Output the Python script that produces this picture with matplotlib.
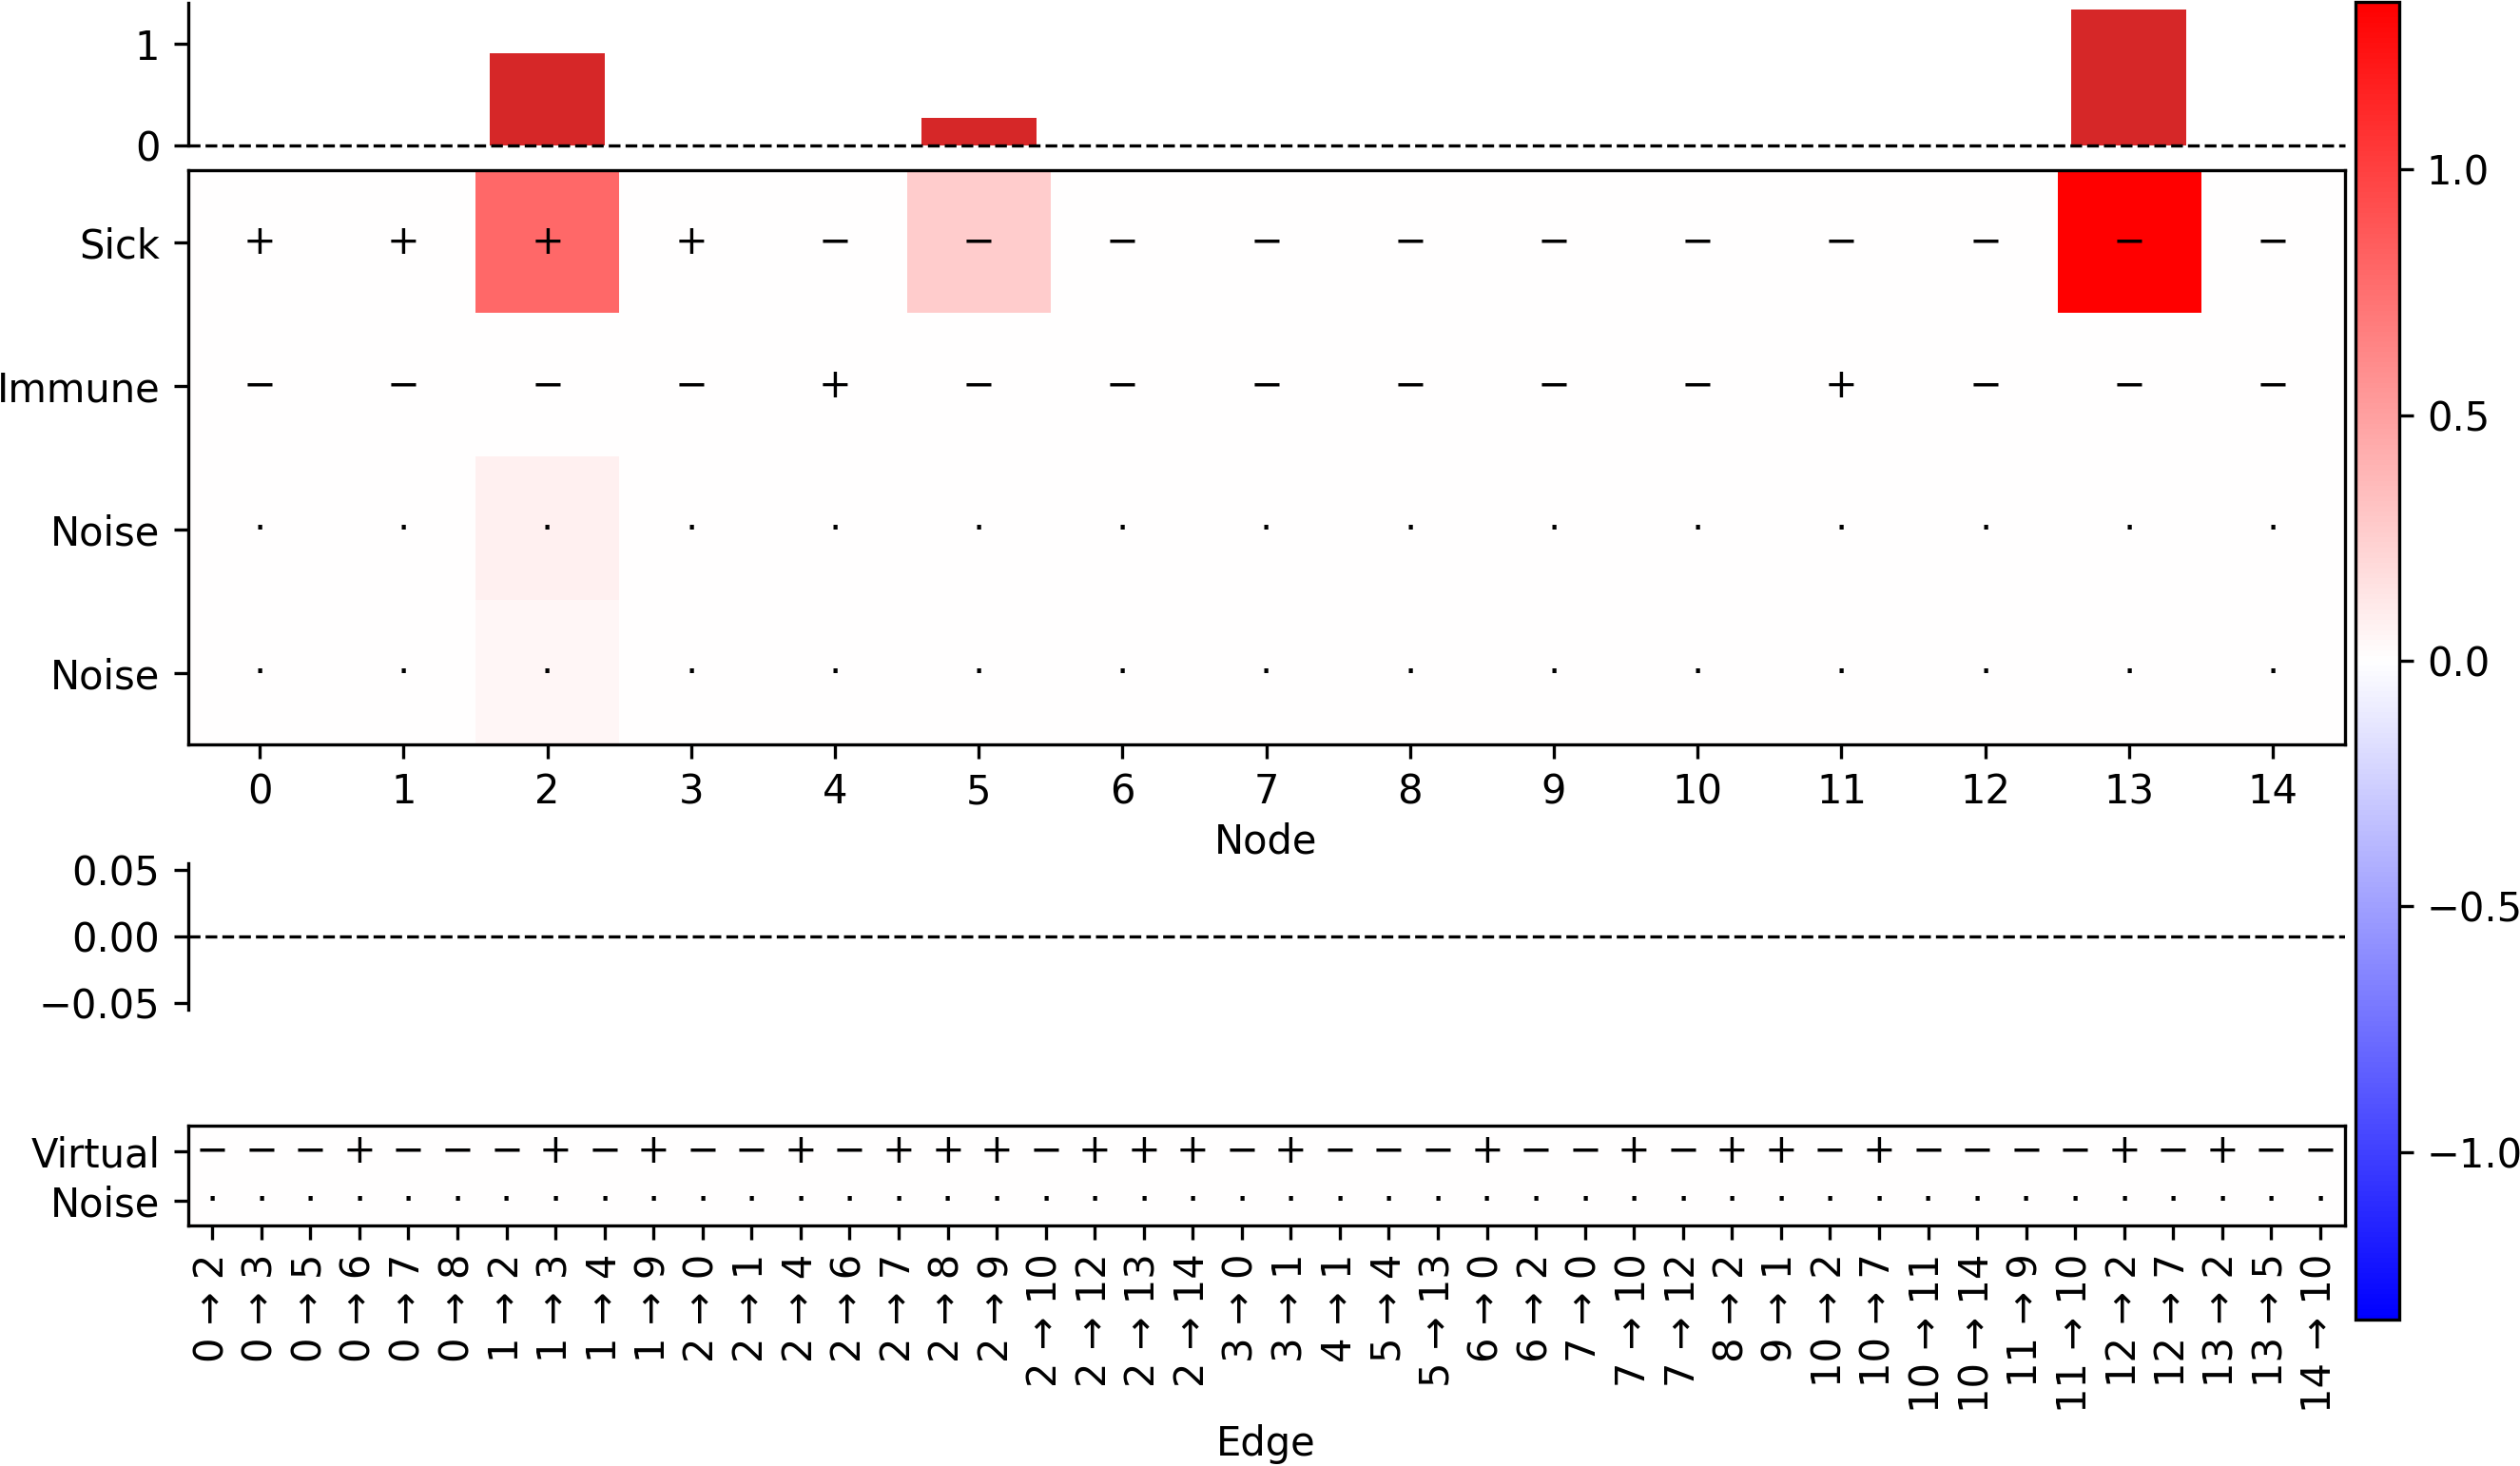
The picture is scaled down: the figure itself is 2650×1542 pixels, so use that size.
import numpy as np
import matplotlib
matplotlib.use("Agg")
import matplotlib.pyplot as plt

# node features (rows) x nodes (cols)
node_features = ["Sick", "Immune", "Noise", "Noise"]
node_ids = list(range(15))
sick_vals = [0, 0, 0.789, 0, 0, 0.268, 0, 0, 0, 0, 0, 0, 0, 1.341, 0]
immune_vals = [0] * 15
noise1_vals = [0, 0, 0.079, 0, 0, 0, 0, 0, 0, 0, 0, 0, 0, 0, 0]
noise2_vals = [0, 0, 0.042, 0, 0, 0, 0, 0, 0, 0, 0, 0, 0, 0, 0]
sick_signs = "++++-----------"
immune_signs = "----+------+---"

# edges
edge_src = [0, 0, 0, 0, 0, 0, 1, 1, 1, 1, 2, 2, 2, 2, 2, 2, 2, 2, 2, 2, 2, 3,
            3, 4, 5, 5, 6, 6, 7, 7, 7, 8, 9, 10, 10, 10, 10, 11, 11, 12, 12,
            13, 13, 14]
edge_dst = [2, 3, 5, 6, 7, 8, 2, 3, 4, 9, 0, 1, 4, 6, 7, 8, 9, 10, 12, 13, 14,
            0, 1, 1, 4, 13, 0, 2, 0, 10, 12, 2, 1, 2, 7, 11, 14, 9, 10, 2, 7,
            2, 5, 10]
edge_features = ["Virtual", "Noise"]
virtual_vals = [0] * 44
edge_noise_vals = [0] * 44
virtual_signs = "---+---+-+--+-+++-+++-+---+--+-++-+----+-+--"

node_mat = np.array([sick_vals, immune_vals, noise1_vals, noise2_vals])
edge_mat = np.array([virtual_vals, edge_noise_vals])
vmax = np.abs(node_mat).max()

node_tot = node_mat.sum(axis=0)
edge_tot = edge_mat.sum(axis=0)

W, H = 2650, 1542
fig = plt.figure(figsize=(W / 300, H / 300), dpi=300)

def box(x0, x1, ytop, ybot):
    return [x0 / W, 1 - ybot / H, (x1 - x0) / W, (ybot - ytop) / H]

L, R = 197.5, 2465.7
ax_nbar = fig.add_axes(box(L, R, 2.5, 152.7))
ax_node = fig.add_axes(box(L, R, 179, 783.3))
ax_ebar = fig.add_axes(box(L, R, 908.3, 1061.7))
ax_edge = fig.add_axes(box(L, R, 1184.3, 1289.3))
cax = fig.add_axes(box(2477, 2522.7, 2, 1388))

# node totals
ax_nbar.bar(node_ids, node_tot, color=["tab:red" if v >= 0 else "tab:blue" for v in node_tot])
ax_nbar.axhline(0, color="k", ls="--", lw=0.8, clip_on=False, zorder=3)
ax_nbar.set_xlim(-0.5, len(node_ids) - 0.5)
ax_nbar.set_ylim(0, node_tot.max() * 1.05)
ax_nbar.set_xticks([])
ax_nbar.set_yticks([0, 1])
for s in ["top", "right", "bottom"]:
    ax_nbar.spines[s].set_visible(False)

# node heatmap
im = ax_node.imshow(node_mat, cmap="bwr", vmin=-vmax, vmax=vmax, aspect="auto")
sym = {"+": "+", "-": "\u2212"}
for j in node_ids:
    ax_node.text(j, 0, sym[sick_signs[j]], ha="center", va="center", fontsize=10)
    ax_node.text(j, 1, sym[immune_signs[j]], ha="center", va="center", fontsize=10)
    ax_node.text(j, 2, "\u00b7", ha="center", va="center", fontsize=10)
    ax_node.text(j, 3, "\u00b7", ha="center", va="center", fontsize=10)
ax_node.set_xticks(node_ids)
ax_node.set_xticklabels([str(i) for i in node_ids])
ax_node.set_yticks(range(len(node_features)))
ax_node.set_yticklabels(node_features)
ax_node.set_xlabel("Node", labelpad=2.5)

# edge totals
ne = len(edge_src)
ax_ebar.bar(range(ne), edge_tot, color="tab:red")
ax_ebar.axhline(0, color="k", ls="--", lw=0.8)
ax_ebar.set_xlim(-0.5, ne - 0.5)
ax_ebar.set_ylim(-0.055, 0.055)
ax_ebar.set_xticks([])
ax_ebar.set_yticks([-0.05, 0, 0.05])
for s in ["top", "right", "bottom"]:
    ax_ebar.spines[s].set_visible(False)

# edge heatmap
ax_edge.imshow(edge_mat, cmap="bwr", vmin=-vmax, vmax=vmax, aspect="auto")
for j in range(ne):
    ax_edge.text(j, 0, sym[virtual_signs[j]], ha="center", va="center", fontsize=10)
    ax_edge.text(j, 1, "\u00b7", ha="center", va="center", fontsize=10)
ax_edge.set_xticks(range(ne))
ax_edge.set_xticklabels([f"{s} \u2192 {t}" for s, t in zip(edge_src, edge_dst)], rotation=90)
ax_edge.set_yticks(range(len(edge_features)))
ax_edge.set_yticklabels(edge_features)
ax_edge.set_xlabel("Edge", labelpad=3)

fig.colorbar(im, cax=cax)

fig.savefig("out.png", dpi=300)
